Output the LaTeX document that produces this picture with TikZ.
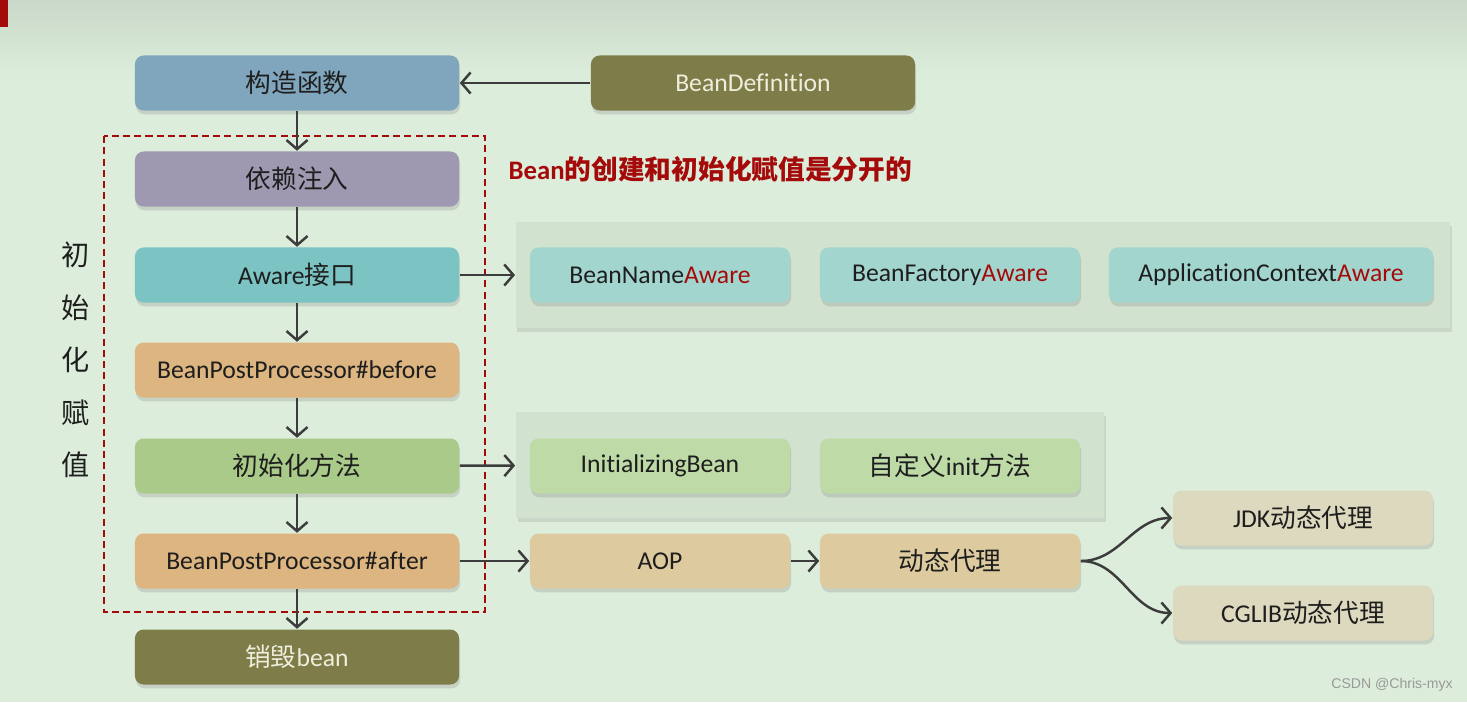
\documentclass[tikz,border=0pt]{standalone}
\usepackage{fontspec}
\setmainfont{Carlito}[Ligatures=NoCommon]
\newfontfamily\cjk{Noto Sans CJK SC}
\newfontfamily\markfont{Liberation Sans}
\usetikzlibrary{positioning,arrows.meta,shadows}
\definecolor{bg}{HTML}{DCEDDB}
\definecolor{bgtop}{HTML}{C9D8C8}
\definecolor{ink}{HTML}{1E1E1E}
\definecolor{paleink}{HTML}{EEEEDC}
\definecolor{redink}{HTML}{A50A0A}
\definecolor{arrowgray}{HTML}{3C3C3C}
\definecolor{ctorblue}{HTML}{7FA6BC}
\definecolor{olive}{HTML}{7E7D4A}
\definecolor{dipurple}{HTML}{9E98B0}
\definecolor{awareteal}{HTML}{7CC3C3}
\definecolor{bpptan}{HTML}{DDB580}
\definecolor{initgreen}{HTML}{A9CA88}
\definecolor{lightteal}{HTML}{A3D5CF}
\definecolor{lightgreen}{HTML}{BDDAA7}
\definecolor{lighttan}{HTML}{DDCA9E}
\definecolor{beige}{HTML}{DDD9BE}
\definecolor{panelgreen}{HTML}{D1E2CF}

\tikzset{
  box/.style={fill=#1, rounded corners=2.5pt, minimum width=3.24cm, minimum height=0.55cm,
    inner sep=0pt, text=ink, font=\fontsize{7.3}{8}\selectfont,
    drop shadow={shadow xshift=0.3pt, shadow yshift=-1.1pt, opacity=0.25}},
  subbox/.style={box=#1, minimum width=2.6cm},
  panel/.style={fill=panelgreen, minimum height=1.06cm, inner sep=0pt,
    drop shadow={shadow xshift=0.5pt, shadow yshift=-1.1pt, opacity=0.2}},
  arr/.style={draw=arrowgray, line width=0.7pt, -{Straight Barb[length=2.6pt,width=6pt]}},
}

\begin{document}
\begin{tikzpicture}[x=0.01cm,y=-0.01cm]
  \useasboundingbox (0,0) rectangle (1467,702);
  \fill[bg] (0,0) rectangle (1467,702);
  \shade[top color=bgtop, bottom color=bg] (0,0) rectangle (1467,75);
  \fill[redink] (0,0) rectangle (8,27);

  % main chain
  \node[box=ctorblue] (ctor) at (297,83) {\cjk 构造函数};
  \node[box=olive, text=paleink] (def) at (753,83) {BeanDefinition};
  \node[box=dipurple] (di) at (297,179) {\cjk 依赖注入};
  \node[box=awareteal] (aware) at (297,275) {Aware{\cjk 接口}};
  \node[box=bpptan] (before) at (297,370) {BeanPostProcessor\#before};
  \node[box=initgreen] (initm) at (297,466) {\cjk 初始化方法};
  \node[box=bpptan] (after) at (297,561) {BeanPostProcessor\#after};
  \node[box=olive, text=paleink] (destroy) at (297,657) {{\cjk 销毁}bean};

  \draw[redink, line width=0.6pt, dash pattern=on 2pt off 1.2pt] (104,136) rectangle (485,612);
  \foreach \ch [count=\i from 0] in {初,始,化,赋,值}
    \node[font=\cjk\fontsize{8}{9}\selectfont, text=ink] (side\i) at (76,255+\i*52.5) {\ch};

  \node[anchor=west, inner sep=0pt, font=\bfseries\fontsize{7.6}{9}\selectfont, text=redink] (title) at (508,169)
    {Bean{\cjk 的创建和初始化赋值是分开的}};

  % aware group
  \node[panel, minimum width=9.34cm] (awarepanel) at (983,275) {};
  \node[subbox=lightteal] (bna) at (660,275) {BeanName\textcolor{redink}{Aware}};
  \node[subbox=lightteal] (bfa) at (950,275) {BeanFactory\textcolor{redink}{Aware}};
  \node[box=lightteal] (aca) at (1271,275) {ApplicationContext\textcolor{redink}{Aware}};

  % init group
  \node[panel, minimum width=5.88cm] (initpanel) at (810,465) {};
  \node[subbox=lightgreen] (ib) at (660,466) {InitializingBean};
  \node[subbox=lightgreen] (cinit) at (950,466) {{\cjk 自定义}init{\cjk 方法}};

  % proxy
  \node[subbox=lighttan] (aop) at (660,561) {AOP};
  \node[subbox=lighttan] (dtdl) at (950,561) {\cjk 动态代理};
  \node[subbox=beige] (jdk) at (1303,518) {JDK{\cjk 动态代理}};
  \node[subbox=beige] (cglib) at (1303,613) {CGLIB{\cjk 动态代理}};

  \foreach \a/\b in {ctor/di,di/aware,aware/before,before/initm,initm/after,after/destroy}
    \draw[arr] (\a) -- (\b);
  \draw[arr] (def) -- (ctor);
  \draw[arr] (aware) -- (awarepanel);
  \draw[arr] (initm) -- (initpanel);
  \draw[arr] (after) -- (aop);
  \draw[arr] (aop) -- (dtdl);
  \draw[arr] (dtdl.east) to[out=0,in=180] (jdk.west);
  \draw[arr] (dtdl.east) to[out=0,in=180] (cglib.west);

  \node[font=\markfont\fontsize{4}{5}\selectfont, text=black!40] (mark) at (1392,685) {CSDN @Chris-myx};
\end{tikzpicture}
\end{document}
